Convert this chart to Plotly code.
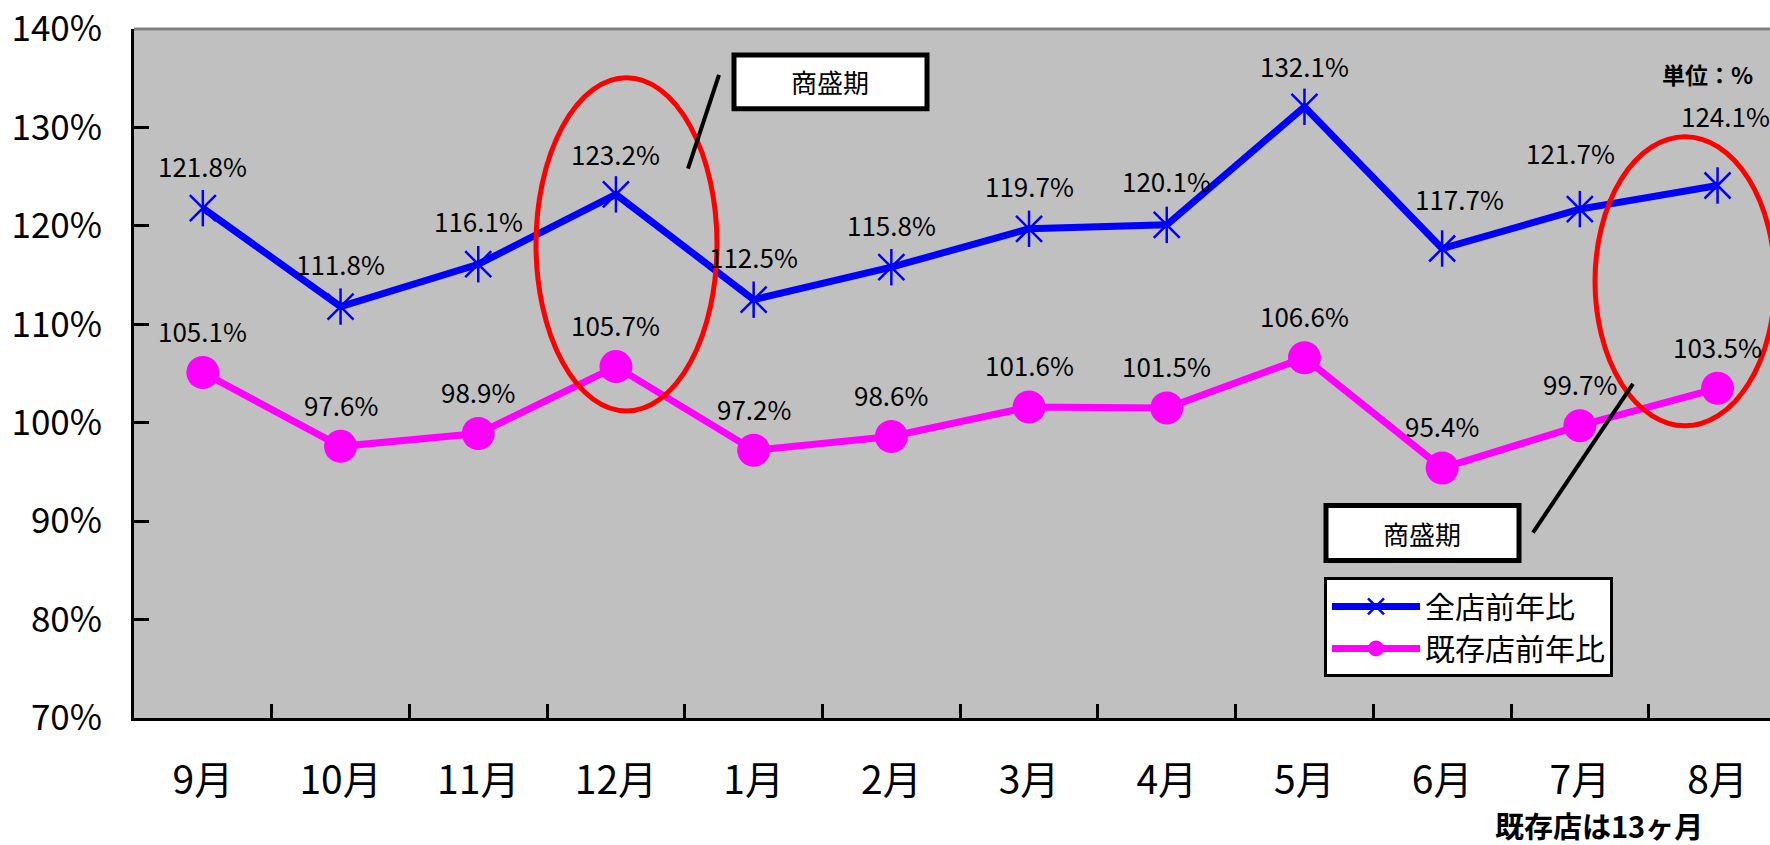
import plotly.graph_objects as go

# ---------------- data ----------------
months = ["9月", "10月", "11月", "12月", "1月", "2月", "3月", "4月", "5月", "6月", "7月", "8月"]
all_store = [121.8, 111.8, 116.1, 123.2, 112.5, 115.8, 119.7, 120.1, 132.1, 117.7, 121.7, 124.1]
existing = [105.1, 97.6, 98.9, 105.7, 97.2, 98.6, 101.6, 101.5, 106.6, 95.4, 99.7, 103.5]
y_tick_vals = [70, 80, 90, 100, 110, 120, 130, 140]
y_tick_text = ["70%", "80%", "90%", "100%", "110%", "120%", "130%", "140%"]
series_names = ["全店前年比", "既存店前年比"]

# label placement (pixels) - style only
blue_dy = [43, 43, 44, 41, 43, 43, 43, 44, 41, 50, 57, 70]
blue_dx = [0, 0, 0, 0, 0, 0, 0, 0, 0, 17, -9, 8]
pink_dy = [42] * 12

# ---------------- layout geometry ----------------
W, H = 1770, 845
L, T, R, B = 134, 27, 1770, 718
FONT = "Noto Sans CJK JP"


def px(x):
    return (x - L) / (R - L)


def py(y):
    return (B - y) / (B - T)


BLUE = "#0000FF"
PINK = "#FF00FF"

fig = go.Figure()

fig.add_trace(go.Scatter(
    x=months, y=all_store, name=series_names[0], mode="lines+markers",
    line=dict(color=BLUE, width=7),
    marker=dict(symbol="x-thin-open", size=26, color=BLUE, line=dict(color=BLUE, width=2.5)),
))
fig.add_trace(go.Scatter(
    x=months, y=all_store, mode="markers", showlegend=False, hoverinfo="skip",
    marker=dict(symbol="line-ns-open", size=26, color=BLUE, line=dict(color=BLUE, width=2.5)),
))
fig.add_trace(go.Scatter(
    x=months, y=existing, name=series_names[1], mode="lines+markers",
    line=dict(color=PINK, width=7),
    marker=dict(symbol="circle", size=33, color=PINK),
))

annotations = []
for i, m in enumerate(months):
    annotations.append(dict(x=m, y=all_store[i], xref="x", yref="y", text=f"{all_store[i]:.1f}%",
                            showarrow=False, yshift=blue_dy[i], xshift=blue_dx[i],
                            xanchor="center", yanchor="middle",
                            font=dict(size=26, color="black", family=FONT)))
    annotations.append(dict(x=m, y=existing[i], xref="x", yref="y", text=f"{existing[i]:.1f}%",
                            showarrow=False, yshift=pink_dy[i],
                            xanchor="center", yanchor="middle",
                            font=dict(size=26, color="black", family=FONT)))


def note(x, y, text, size):
    return dict(x=px(x), y=py(y), xref="paper", yref="paper", text=text, showarrow=False,
                xanchor="center", yanchor="middle",
                font=dict(size=size, color="black", family=FONT))


annotations += [
    note(830, 80, "商盛期", 26),
    note(1422, 533, "商盛期", 26),
    note(1707, 72, "<b>単位：%</b>", 23),
    note(1599, 825, "<b>既存店は13ヶ月</b>", 29),
]

shapes = [
    # top border of plot area
    dict(type="line", xref="paper", yref="paper", x0=0, x1=1, y0=1, y1=1,
         line=dict(color="#808080", width=3), layer="below"),
    # ellipses
    dict(type="circle", xref="paper", yref="paper", x0=px(536), x1=px(717), y0=py(410), y1=py(76),
         line=dict(color="#FF0000", width=5), layer="above"),
    dict(type="circle", xref="paper", yref="paper", x0=px(1595), x1=px(1775), y0=py(425), y1=py(135),
         line=dict(color="#FF0000", width=5), layer="above"),
    # callout boxes
    dict(type="rect", xref="paper", yref="paper", x0=px(734), x1=px(927), y0=py(107), y1=py(53),
         line=dict(color="black", width=5), fillcolor="white", layer="above"),
    dict(type="rect", xref="paper", yref="paper", x0=px(1326), x1=px(1519), y0=py(560), y1=py(505),
         line=dict(color="black", width=5), fillcolor="white", layer="above"),
    # leader lines
    dict(type="line", xref="paper", yref="paper", x0=px(719), y0=py(73), x1=px(688), y1=py(167),
         line=dict(color="black", width=4), layer="above"),
    dict(type="line", xref="paper", yref="paper", x0=px(1633), y0=py(383), x1=px(1533), y1=py(532),
         line=dict(color="black", width=4), layer="above"),
]

fig.update_layout(
    width=W, height=H,
    margin=dict(l=L, r=W - R, t=T, b=H - B, pad=0),
    paper_bgcolor="white", plot_bgcolor="#C0C0C0",
    font=dict(family=FONT, color="black"),
    showlegend=True,
    legend=dict(x=px(1324), y=py(577), xanchor="left", yanchor="top", xref="paper", yref="paper",
                bgcolor="white", bordercolor="black", borderwidth=3,
                font=dict(size=30, family=FONT, color="black"), itemwidth=88, tracegroupgap=0),
    annotations=annotations, shapes=shapes,
)

fig.update_xaxes(
    type="category", categoryorder="array", categoryarray=months,
    range=[-0.5, -0.5 + (R - L) / 137.7],
    showline=True, linecolor="black", linewidth=3,
    ticks="inside", ticklen=14, tickwidth=2.5, tickcolor="black", tickson="boundaries",
    showgrid=False, zeroline=False,
    tickfont=dict(size=39, family=FONT, color="black"), ticklabelstandoff=26,
)
fig.update_yaxes(
    range=[70, 140], tickmode="array", tickvals=y_tick_vals, ticktext=y_tick_text,
    showline=True, linecolor="black", linewidth=3,
    ticks="inside", ticklen=15, tickwidth=2.5, tickcolor="black",
    showgrid=False, zeroline=False, ticklabeloverflow="allow",
    tickfont=dict(size=35, family=FONT, color="black"), ticklabelstandoff=22,
)

fig.write_html("out.html")
